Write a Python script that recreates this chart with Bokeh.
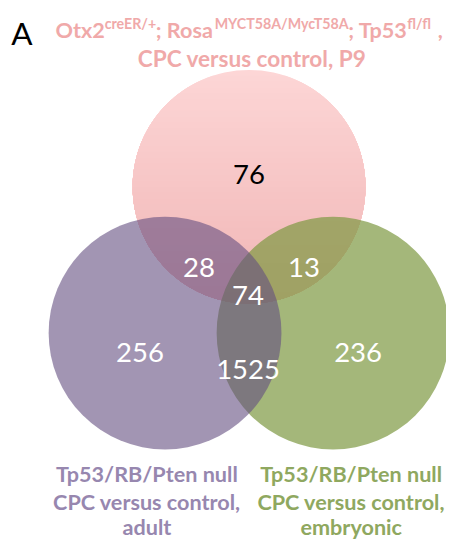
import numpy as np
from bokeh.plotting import figure
from bokeh.models import Range1d, ColumnDataSource
from bokeh.core.properties import value
from bokeh.embed import file_html
from bokeh.resources import INLINE

# ---- data ----
panel_letter = "A"
title_parts = ["Otx2", "creER/+", "; Rosa", "MYCT58A/MycT58A", "; Tp53", "fl/fl", " ,"]
title_is_sup = [False, True, False, True, False, True, False]
title_line2 = "CPC versus control, P9"
purple_label = ["Tp53/RB/Pten null", "CPC versus control,", "adult"]
green_label = ["Tp53/RB/Pten null", "CPC versus control,", "embryonic"]
region_names = ["P9 only", "P9 & adult", "P9 & embryonic", "all three", "adult only", "embryonic only", "adult & embryonic"]
region_counts = [76, 28, 13, 74, 256, 236, 1525]

# ---- layout: 446x540 canvas showing a slightly larger layout space ----
W, H = 446, 540
XR, YR = 454.0, 548.0
k = W / XR  # font scale so text keeps its size relative to the layout


def fs(px):
    return "%.2fpx" % (px * k)


p = figure(width=W, height=H, x_range=Range1d(0, XR), y_range=Range1d(YR, 0),
           output_backend="svg", toolbar_location=None, min_border=0)
p.axis.visible = False
p.grid.visible = False
p.outline_line_color = None
p.background_fill_color = "white"
p.border_fill_color = "white"

R = 118.5
pink_c = (253.0, 189.0)
purple_c = (167.5, 337.5)
green_c = (338.5, 337.5)

# pink circle with vertical gradient, built as stacked lower segments
top_col = np.array([253, 214, 214])
bot_col = np.array([241, 182, 182])
N = 40
xs, ys, cols = [], [], []
for i in range(N):
    yi = pink_c[1] - R + i * (2 * R / N)
    s = np.clip((yi - pink_c[1]) / R, -1, 1)
    t0 = np.arcsin(s)
    t = np.linspace(t0, np.pi - t0, 120)
    xs.append(list(pink_c[0] + R * np.cos(t)))
    ys.append(list(pink_c[1] + R * np.sin(t)))
    f = i / (N - 1)
    c = (top_col * (1 - f) + bot_col * f).astype(int)
    cols.append("#%02x%02x%02x" % tuple(c))
p.patches(xs, ys, fill_color=cols, line_color=None)

p.circle(x=[green_c[0]], y=[green_c[1]], radius=R, fill_color="#7D9841", fill_alpha=0.7, line_color=None)
p.circle(x=[purple_c[0]], y=[purple_c[1]], radius=R, fill_color="#644E80", fill_alpha=0.6, line_color=None)

# region counts
num_x = [253, 202, 309, 252, 142, 364, 252]
num_y = [177, 271, 271, 299, 357, 357, 374]
num_col = ["black"] + ["white"] * 6
src = ColumnDataSource(dict(x=num_x, y=num_y, t=[str(v) for v in region_counts], c=num_col))
p.text(x="x", y="y", text="t", text_color="c", source=src, text_font=value("Lato"),
       text_font_size=fs(28), text_align="center", text_baseline="alphabetic")

# panel letter
p.text(x=[11], y=[33], text=[panel_letter], text_font=value("Lato"), text_font_size=fs(32),
       text_color="black", text_align="left", text_baseline="alphabetic")

# title
pink_txt = "#F0A9A9"
title_x = [56, 106, 158, 218, 354, 414, 445]
for part, sup, x in zip(title_parts, title_is_sup, title_x):
    p.text(x=[x], y=[23 if sup else 30], text=[part], text_font=value("Lato"),
           text_font_size=fs(14.5) if sup else fs(22), text_font_style="bold",
           text_color=pink_txt, text_align="left", text_baseline="alphabetic")
p.text(x=[256], y=[59], text=[title_line2], text_font=value("Lato"), text_font_size=fs(23),
       text_font_style="bold", text_color=pink_txt, text_align="center", text_baseline="alphabetic")

# set labels
label_y = [481, 509, 534]
for lab, cx, col in [(purple_label, 149, "#9787AF"), (green_label, 357, "#8FA860")]:
    p.text(x=[cx] * 3, y=label_y, text=lab, text_font=value("Lato"), text_font_size=fs(22),
           text_font_style="bold", text_color=col, text_align="center", text_baseline="alphabetic")

open("out.html", "w").write(file_html(p, INLINE))
